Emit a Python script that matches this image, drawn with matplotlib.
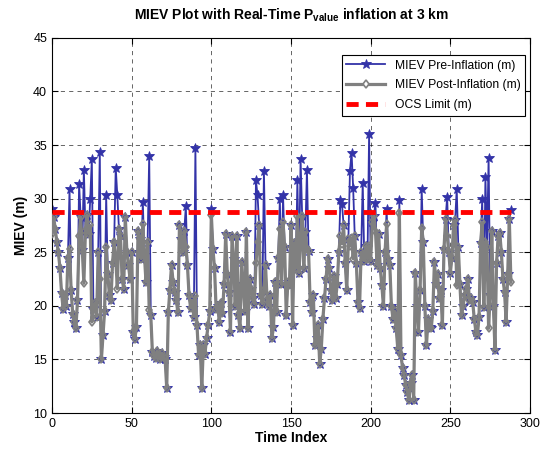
import numpy as np
import matplotlib
matplotlib.use("Agg")
from matplotlib import pyplot as plt

# MIEV values (m)
pre_inflation = [
    29.0, 28.3, 27.2, 26.0, 25.0, 23.5, 21.2, 19.7, 21.0, 20.0,
    24.5, 30.9, 21.5, 19.2, 18.5, 17.9, 20.5, 31.4, 28.3, 25.2,
    32.7, 27.0, 28.5, 26.7, 30.0, 33.7, 19.7, 20.3, 19.0, 25.0,
    34.4, 15.0, 17.3, 19.5, 30.3, 23.0, 21.0, 20.5, 24.0, 26.0,
    32.9, 30.3, 27.2, 26.5, 22.5, 21.6, 28.3, 25.0, 23.8, 22.5,
    25.0, 17.6, 16.9, 18.0, 27.0, 26.2, 24.4, 29.7, 24.7, 22.2,
    26.0, 34.0, 19.1, 15.7, 15.3, 15.1, 15.8, 15.4, 15.0, 15.6,
    15.2, 15.0, 12.3, 19.4, 21.5, 23.8, 22.2, 21.3, 20.5, 19.4,
    27.5, 26.2, 25.0, 27.0, 29.3, 23.8, 21.0, 19.8, 20.5, 19.0,
    34.7, 18.2, 15.4, 16.3, 12.3, 16.3, 15.5, 17.0, 18.2, 19.5,
    29.0, 25.3, 23.5, 19.7, 20.0, 18.5, 20.3, 19.3, 22.0, 26.7,
    23.0, 21.3, 17.6, 26.5, 24.4, 20.0, 26.5, 19.1, 17.9, 24.1,
    22.0, 19.5, 26.9, 17.9, 22.5, 21.6, 20.7, 20.2, 31.7, 30.3,
    27.5, 21.0, 20.2, 32.6, 23.8, 20.5, 20.0, 21.0, 17.0, 18.0,
    22.2, 19.4, 24.5, 30.0, 22.0, 30.3, 25.5, 19.1, 22.2, 21.9,
    27.5, 18.2, 25.9, 23.5, 31.7, 23.1, 33.7, 28.4, 23.5, 26.9,
    32.7, 25.1, 20.4, 19.4, 21.0, 16.3, 17.0, 18.2, 14.6, 16.0,
    18.8, 20.7, 22.5, 24.4, 23.5, 21.5, 20.5, 22.8, 20.7, 22.0,
    25.0, 29.9, 29.5, 27.5, 24.0, 21.5, 26.2, 32.6, 34.3, 31.0,
    26.5, 24.0, 20.4, 19.8, 25.0, 31.5, 24.2, 25.6, 24.4, 36.0,
    24.2, 27.8, 28.4, 29.6, 23.8, 26.7, 23.5, 21.9, 20.0, 25.0,
    29.0, 24.4, 23.8, 20.0, 18.8, 19.5, 17.9, 16.0, 29.9, 15.4,
    14.2, 13.5, 12.6, 12.0, 11.2, 12.8, 13.5, 11.2, 23.1, 20.0,
    17.6, 21.5, 30.9, 26.0, 20.0, 16.3, 18.8, 18.0, 17.9, 19.5,
    24.1, 22.0, 23.0, 20.7, 21.5, 18.2, 25.3, 28.1, 30.2, 25.0,
    23.1, 24.5, 27.5, 28.0, 30.9, 25.5, 22.0, 19.1, 20.0, 21.0,
    21.6, 22.5, 20.5, 20.7, 20.4, 18.8, 17.6, 17.3, 19.0, 25.9,
    30.0, 19.9, 32.0, 25.5, 33.8, 21.0, 27.0, 20.0, 15.9, 24.0,
    26.5, 26.8, 25.0, 22.5, 21.3, 18.5, 23.0, 28.1, 28.9,
]

post_inflation = [
    26.7, 28.3, 27.2, 26.0, 25.0, 23.5, 21.2, 19.7, 21.0, 20.0,
    24.5, 25.3, 21.5, 19.2, 18.5, 17.9, 20.5, 26.5, 28.3, 25.2,
    22.1, 27.0, 28.5, 26.7, 27.5, 18.5, 19.7, 20.3, 19.0, 25.0,
    22.5, 15.0, 17.3, 19.5, 25.5, 23.0, 21.0, 20.5, 24.0, 26.0,
    24.4, 21.6, 27.2, 26.5, 22.5, 21.6, 28.3, 25.0, 23.8, 22.5,
    25.0, 17.6, 16.9, 18.0, 27.0, 26.2, 24.4, 27.6, 24.7, 22.2,
    26.0, 19.6, 19.1, 15.7, 15.3, 15.1, 15.8, 15.4, 15.0, 15.6,
    15.2, 15.0, 12.3, 19.4, 21.5, 23.8, 22.2, 21.3, 20.5, 19.4,
    27.5, 26.2, 25.0, 27.0, 25.5, 23.8, 21.0, 19.8, 20.5, 19.0,
    20.9, 18.2, 15.4, 16.3, 12.3, 16.3, 15.5, 17.0, 18.2, 19.5,
    28.5, 25.3, 23.5, 19.7, 20.0, 18.5, 20.3, 19.3, 22.0, 26.7,
    23.0, 21.3, 17.6, 26.5, 24.4, 20.0, 26.5, 19.1, 17.9, 24.1,
    22.0, 19.5, 26.9, 17.9, 22.5, 21.6, 20.7, 20.2, 24.0, 26.0,
    27.5, 21.0, 20.2, 21.5, 23.8, 20.5, 20.0, 21.0, 17.0, 18.0,
    22.2, 19.4, 24.5, 27.2, 22.0, 27.8, 25.5, 19.1, 22.2, 21.9,
    27.5, 18.2, 25.9, 23.5, 28.4, 23.1, 26.2, 28.4, 23.5, 26.9,
    25.3, 25.1, 20.4, 19.4, 21.0, 16.3, 17.0, 18.2, 14.6, 16.0,
    18.8, 20.7, 22.5, 24.4, 23.5, 21.5, 20.5, 22.8, 20.7, 22.0,
    25.0, 26.5, 25.8, 27.5, 24.0, 21.5, 26.2, 25.6, 26.3, 24.4,
    26.5, 24.0, 20.4, 19.8, 25.0, 24.8, 24.2, 25.6, 24.4, 25.6,
    24.2, 27.8, 28.4, 27.0, 23.8, 26.7, 23.5, 21.9, 20.0, 25.0,
    27.6, 24.4, 23.8, 20.0, 18.8, 19.5, 17.9, 16.0, 28.7, 15.4,
    14.2, 13.5, 12.6, 12.0, 11.2, 12.8, 13.5, 11.2, 23.1, 20.0,
    17.6, 21.5, 27.3, 26.0, 20.0, 16.3, 18.8, 18.0, 17.9, 19.5,
    24.1, 22.0, 23.0, 20.7, 21.5, 18.2, 25.3, 28.1, 26.5, 25.0,
    23.1, 24.5, 27.5, 28.0, 21.9, 25.5, 22.0, 19.1, 20.0, 21.0,
    21.6, 22.5, 20.5, 20.7, 20.4, 18.8, 17.6, 17.3, 19.0, 25.9,
    27.8, 19.9, 26.0, 25.5, 17.9, 21.0, 27.0, 20.0, 15.9, 24.0,
    26.5, 26.8, 25.0, 22.5, 21.3, 18.5, 23.0, 28.1, 22.2,
]

ocs_limit = 28.8
time_index = np.arange(len(pre_inflation))

plt.rcParams["font.family"] = ["Liberation Sans", "DejaVu Sans"]
plt.rcParams["mathtext.fontset"] = "custom"
plt.rcParams["mathtext.bf"] = "Liberation Sans:bold"
plt.rcParams["mathtext.rm"] = "Liberation Sans"

fig = plt.figure(figsize=(5.52, 4.53), dpi=100)
ax = fig.add_axes([0.0942, 0.0883, 0.866, 0.828])

ax.plot(time_index, pre_inflation, "-*", color="#3333a8", lw=1.3,
        markersize=7.5, markeredgewidth=0.6, label="MIEV Pre-Inflation (m)",
        zorder=2)
ax.plot(time_index, post_inflation, "-d", color="#808080", lw=2.3,
        markersize=4.5, markerfacecolor="none", markeredgewidth=1.2,
        label="MIEV Post-Inflation (m)", zorder=3)
ax.plot([time_index[0], time_index[-1]], [ocs_limit, ocs_limit], "--",
        color="red", lw=3.5, dashes=(2.5, 1.5), label="OCS Limit (m)",
        zorder=4)

ax.set_xlim(0, 300)
ax.set_ylim(10, 45)
ax.set_xticks(range(0, 301, 50))
ax.set_yticks(range(10, 46, 5))
ax.tick_params(direction="in", labelsize=9, length=4, top=True, right=True)
ax.grid(True, color="black", linestyle=(0, (5, 5)), lw=0.6, alpha=0.7)

ax.set_xlabel("Time Index", fontsize=10, fontweight="bold", labelpad=1)
ax.set_ylabel("MIEV (m)", fontsize=10, fontweight="bold", labelpad=4)
ax.set_title(r"MIEV Plot with Real-Time P$_{\mathbf{value}}$ inflation at 3 km",
             fontsize=10, fontweight="bold", pad=13)

leg = ax.legend(loc="upper right", bbox_to_anchor=(0.99, 0.955),
                borderaxespad=0, fontsize=8.7, fancybox=False,
                edgecolor="black", framealpha=1, labelspacing=0.65,
                handlelength=3.2)
leg.get_frame().set_linewidth(0.8)
leg.legend_handles[1].set_markerfacecolor("white")

fig.savefig("out.png", dpi=100)
